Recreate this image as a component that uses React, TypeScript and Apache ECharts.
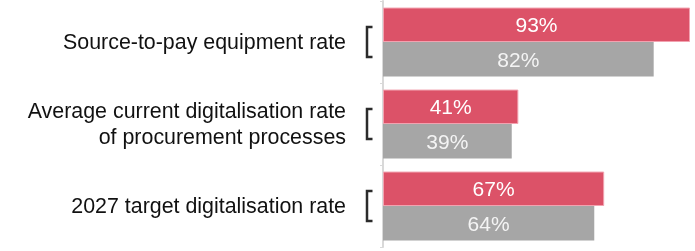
import React, { useEffect, useRef } from "react";
import * as echarts from "echarts";

const categories = [
  "Source-to-pay equipment rate",
  "Average current digitalisation rate\nof procurement processes",
  "2027 target digitalisation rate",
];
const seriesNames = ["Current", "Previous"];
const redValues = [93, 41, 67];
const grayValues = [82, 39, 64];

export default function App() {
  const ref = useRef<HTMLDivElement>(null);
  useEffect(() => {
    if (!ref.current) return;
    const chart = echarts.init(ref.current, null, { renderer: "svg" });
    const font = "'Liberation Sans', Arial, sans-serif";
    chart.setOption({
      animation: false,
      grid: { left: 383, right: 5, top: 1, bottom: 4, containLabel: false },
      xAxis: { type: "value", min: 0, max: 93, show: false },
      yAxis: {
        type: "category",
        data: categories,
        inverse: true,
        axisLine: { show: true, lineStyle: { color: "#d9d9d9", width: 2 } },
        axisTick: { show: true, length: 3, lineStyle: { color: "#d9d9d9", width: 1 } },
        axisLabel: {
          margin: 37,
          fontSize: 21.4,
          lineHeight: 26.6,
          padding: [3, 0, 0, 0],
          color: "#111111",
          fontFamily: font,
          align: "right",
        },
        splitLine: { show: false },
      },
      series: [
        {
          name: seriesNames[0],
          type: "bar",
          data: redValues,
          barCategoryGap: "16%",
          barGap: "0%",
          itemStyle: { color: "#DC5268", borderColor: "#F2A2B0", borderWidth: 1 },
          label: {
            show: true,
            position: "inside",
            formatter: "{c}%",
            color: "#ffffff",
            fontSize: 21,
            fontFamily: font,
          },
        },
        {
          name: seriesNames[1],
          type: "bar",
          data: grayValues,
          barCategoryGap: "16%",
          barGap: "0%",
          itemStyle: { color: "#A6A6A6" },
          label: {
            show: true,
            position: "inside",
            formatter: "{c}%",
            color: "#f4f4f4",
            fontSize: 21,
            fontFamily: font,
          },
        },
        {
          type: "custom",
          clip: false,
          silent: true,
          data: categories.map((_, i) => [0, i]),
          encode: { x: 0, y: 1 },
          renderItem: (params: any, api: any) => {
            const p = api.coord([0, api.value(1)]);
            const x = p[0] - 16;
            const y = p[1];
            const h = 15;
            return {
              type: "polyline",
              shape: {
                points: [
                  [x + 5.5, y - h],
                  [x, y - h],
                  [x, y + h],
                  [x + 5.5, y + h],
                ],
              },
              style: { stroke: "#2b2b2b", lineWidth: 2.5, fill: "none" },
            };
          },
        },
      ],
    });
    return () => chart.dispose();
  }, []);
  return (
    <div
      ref={ref}
      style={{ position: "fixed", left: 0, top: 0, width: 695, height: 251 }}
    />
  );
}
